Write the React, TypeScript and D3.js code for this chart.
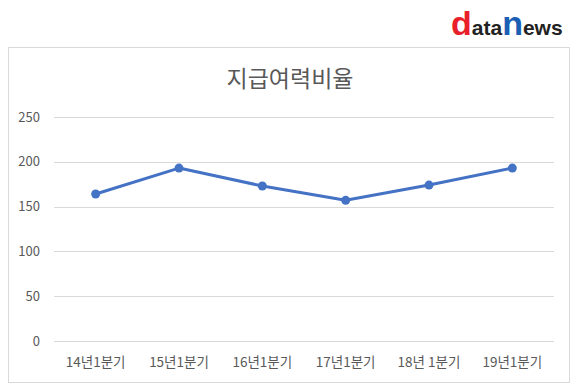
import React, { useEffect, useRef } from "react";
import * as d3 from "d3";

const categories = ["14년1분기", "15년1분기", "16년1분기", "17년1분기", "18년 1분기", "19년1분기"];
const values = [164, 193, 173, 157, 174, 193];
const yTicks = [0, 50, 100, 150, 200, 250];
const title = "지급여력비율";

const FONT = "'Noto Sans CJK KR', 'Noto Sans', sans-serif";

export default function App() {
  const ref = useRef<SVGSVGElement>(null);
  useEffect(() => {
    const node = ref.current;
    if (!node) return;
    const w = 580, h = 391;
    const svg = d3.select(node);
    svg.attr("viewBox", `0 0 ${w} ${h}`).selectAll("*").remove();
    const m = { l: 54, r: 26, t: 117, b: 50 };
    const x = d3.scaleBand<string>().domain(categories).range([m.l, w - m.r]);
    const y = d3.scaleLinear().domain([0, 250]).range([h - m.b, m.t]);

    svg.append("rect").attr("width", w).attr("height", h).attr("fill", "#fff");

    // logo
    const logo = svg.append("text").attr("x", 451).attr("y", 35)
      .attr("font-family", "'Liberation Sans', Arial, sans-serif").attr("font-weight", "bold");
    logo.append("tspan").attr("fill", "#e8202a").attr("font-size", 34).text("d");
    logo.append("tspan").attr("fill", "#222").attr("font-size", 21).text("ata");
    logo.append("tspan").attr("fill", "#1a5fb4").attr("font-size", 34).text("n");
    logo.append("tspan").attr("fill", "#222").attr("font-size", 21).text("ews");

    // chart frame
    svg.append("rect").attr("x", 8.5).attr("y", 47.5).attr("width", 561).attr("height", 335)
      .attr("fill", "#fff").attr("stroke", "#d9d9d9");

    svg.append("text").attr("x", 290).attr("y", 87).attr("text-anchor", "middle")
      .attr("font-family", FONT).attr("font-size", 23).attr("fill", "#595959").text(title);

    const g = svg.append("g");
    g.selectAll("line.grid").data(yTicks).enter().append("line")
      .attr("x1", m.l).attr("x2", w - m.r)
      .attr("y1", (d) => Math.round(y(d)) + 0.5).attr("y2", (d) => Math.round(y(d)) + 0.5)
      .attr("stroke", "#d9d9d9").attr("stroke-width", 1);
    g.selectAll("text.yl").data(yTicks).enter().append("text")
      .attr("x", 40).attr("y", (d) => y(d) + 4.5).attr("text-anchor", "end")
      .attr("font-family", FONT).attr("font-size", 13).attr("fill", "#595959").text((d) => d);
    g.selectAll("text.xl").data(categories).enter().append("text")
      .attr("x", (d) => (x(d) as number) + x.bandwidth() / 2).attr("y", h - m.b + 26)
      .attr("text-anchor", "middle")
      .attr("font-family", FONT).attr("font-size", 13.5).attr("fill", "#595959").text((d) => d);

    const cx = (i: number) => (x(categories[i]) as number) + x.bandwidth() / 2;
    const line = d3.line<number>().x((_, i) => cx(i)).y((d) => y(d));
    g.append("path").datum(values).attr("d", line).attr("fill", "none")
      .attr("stroke", "#4472c4").attr("stroke-width", 3).attr("stroke-linejoin", "round");
    g.selectAll("circle").data(values).enter().append("circle")
      .attr("cx", (_, i) => cx(i)).attr("cy", (d) => y(d)).attr("r", 4.5).attr("fill", "#4472c4");
  }, []);
  return <svg ref={ref} width={580} height={391} style={{ position: "absolute", left: 0, top: 0 }} />;
}
